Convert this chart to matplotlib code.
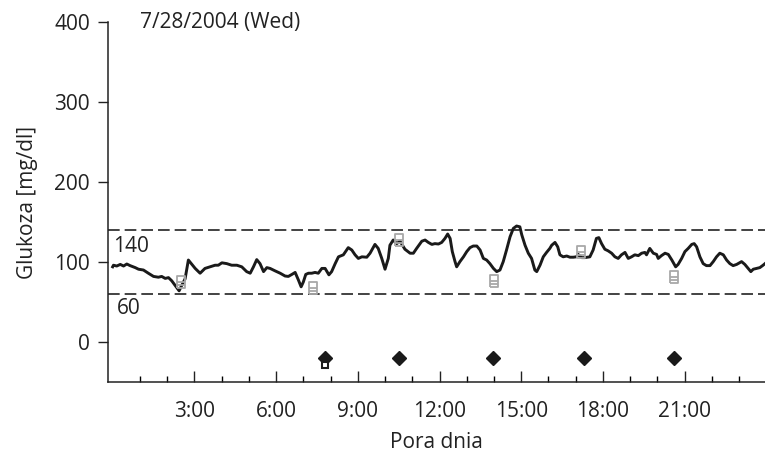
# CGM glucose trace for one day, with meter readings and event markers

import matplotlib
matplotlib.use("Agg")
import matplotlib.pyplot as plt
from matplotlib.path import Path

plt.rcParams['font.family'] = ['Open Sans', 'DejaVu Sans']

# sensor trace: hour of day, glucose (mg/dl)
cgm_hours = [
    0.00, 0.03, 0.15, 0.28, 0.40, 0.52, 0.64, 0.83, 0.95, 1.13, 1.31, 1.50, 1.68, 1.80,
    1.93, 2.05, 2.17, 2.29, 2.44, 2.54, 2.66, 2.78, 2.91, 3.03, 3.21, 3.39, 3.58, 3.76,
    3.88, 4.01, 4.19, 4.37, 4.56, 4.74, 4.92, 5.05, 5.17, 5.29, 5.41, 5.54, 5.66, 5.78,
    5.96, 6.15, 6.33, 6.45, 6.58, 6.70, 6.82, 6.92, 7.00, 7.09, 7.19, 7.31, 7.43, 7.55,
    7.68, 7.80, 7.94, 8.04, 8.17, 8.29, 8.47, 8.65, 8.78, 8.90, 9.02, 9.15, 9.33, 9.45,
    9.63, 9.75, 9.88, 10.00, 10.12, 10.18, 10.30, 10.43, 10.55, 10.73, 10.92, 11.04,
    11.16, 11.35, 11.47, 11.59, 11.72, 11.83, 11.96, 12.08, 12.20, 12.30, 12.39, 12.47,
    12.57, 12.63, 12.75, 12.88, 13.00, 13.12, 13.24, 13.37, 13.49, 13.61, 13.73, 13.85,
    13.98, 14.10, 14.22, 14.34, 14.46, 14.59, 14.71, 14.83, 14.95, 15.02, 15.14, 15.26,
    15.38, 15.50, 15.57, 15.69, 15.81, 15.93, 16.05, 16.12, 16.24, 16.34, 16.42, 16.54,
    16.67, 16.79, 16.91, 17.03, 17.09, 17.22, 17.34, 17.52, 17.64, 17.76, 17.85, 17.95,
    18.07, 18.19, 18.32, 18.44, 18.56, 18.68, 18.81, 18.93, 19.05, 19.17, 19.30, 19.42,
    19.54, 19.60, 19.72, 19.85, 19.97, 20.03, 20.15, 20.28, 20.40, 20.53, 20.67, 20.76,
    20.89, 21.01, 21.13, 21.26, 21.35, 21.44, 21.56, 21.68, 21.80, 21.93, 22.05, 22.17,
    22.29, 22.42, 22.54, 22.66, 22.78, 22.91, 23.09, 23.21, 23.33, 23.43, 23.52, 23.64,
    23.76, 23.88, 23.95,
]
cgm_values = [
    94, 96, 95, 97, 95, 97.5, 95.5, 93, 91, 90, 86, 82, 81, 82,
    79.5, 80.5, 76.5, 71, 64, 71, 79, 102.5, 97, 92, 86, 92, 94, 96,
    96, 99, 98, 96, 96, 94, 88, 86, 94, 103, 98, 88, 93, 92,
    89, 86, 82.5, 82, 84.5, 87, 77.5, 69, 75, 84.5, 86, 86, 87, 86,
    92, 92, 84, 88, 98, 106.5, 109, 118, 115, 109, 104.5, 106.5, 106, 111,
    122, 117, 104.5, 91, 104.5, 121, 127.5, 123, 126, 116, 111, 111,
    117, 126, 127.5, 124.5, 122, 123, 122.5, 124.5, 129.5, 135, 129.5, 113,
    100.5, 94, 100.5, 106.5, 113, 118, 120, 120, 115, 104.5, 102.5, 98,
    92, 88, 90, 100.5, 115, 131.5, 142, 145, 144, 134, 121, 111,
    104.5, 90, 88, 96, 106.5, 112, 117, 121, 124.5, 119, 109, 106.5,
    107.5, 106, 106, 106.5, 109.5, 105.5, 105.5, 106.5, 115, 129.5, 130.5, 123,
    116, 114, 111, 106.5, 104.5, 109, 112, 104.5, 106.5, 109, 108, 111,
    112, 109, 117, 111, 109.5, 104.5, 108, 111, 109.5, 102.5, 94, 97,
    104.5, 113, 117, 122, 123, 119, 106.5, 98, 95.5, 95.5, 100.5, 106.5,
    111, 109, 102.5, 98, 95.5, 97, 100.5, 97, 92, 88, 91, 92,
    93, 96, 98,
]

# fingerstick meter readings
meter_hours = [2.52, 7.34, 10.5, 14.0, 17.2, 20.6]
meter_values = [75, 67, 128, 76, 113, 81]

# event markers along the bottom
event_hours = [7.80, 10.52, 13.98, 17.30, 20.62]
event_level = -20
insulin_hours = [7.80]
insulin_level = -29

low_limit = 60
high_limit = 140

fs = 15

fig = plt.figure(figsize=(7.65, 4.55), dpi=100)
ax = fig.add_axes([0.1412, 0.1604, 0.8588, 0.7912])

# target range lines
ax.axhline(high_limit, color='#222222', lw=1.2, dashes=(7, 3))
ax.axhline(low_limit, color='#222222', lw=1.2, dashes=(7, 3))
ax.text(0.0, 120, str(high_limit), fontsize=fs, va='center', ha='left', color='#222222')
ax.text(0.15, 42, str(low_limit), fontsize=fs, va='center', ha='left', color='#222222')

# sensor trace
ax.plot(cgm_hours, cgm_values, color='#1a1a1a', lw=2.1, solid_joinstyle='round')

# meter readings drawn as a small boxed glyph
box = Path(
    [(-0.35, -0.5), (0.35, -0.5), (0.35, 0.5), (-0.35, 0.5), (-0.35, -0.5),
     (-0.35, 0.0), (0.35, 0.0), (-0.35, -0.25), (0.35, -0.25)],
    [Path.MOVETO, Path.LINETO, Path.LINETO, Path.LINETO, Path.LINETO,
     Path.MOVETO, Path.LINETO, Path.MOVETO, Path.LINETO],
)
ax.plot(meter_hours, meter_values, ls='none', marker=box, ms=8,
        mfc='none', mec='#a8a8a8', mew=1.3)

# events
ax.plot(event_hours, [event_level] * len(event_hours), ls='none', marker='D',
        ms=7, color='#1a1a1a')
ax.plot(insulin_hours, [insulin_level] * len(insulin_hours), ls='none', marker='s',
        ms=4.5, mfc='white', mec='#1a1a1a', mew=1.5)

ax.text(1.0, 400, '7/28/2004 (Wed)', fontsize=fs, va='center', ha='left', color='#222222')

ax.set_xlim(-0.17, 23.95)
ax.set_ylim(-50, 400)
ax.set_yticks([0, 100, 200, 300, 400])
ax.set_xticks([3, 6, 9, 12, 15, 18, 21])
ax.set_xticklabels(['3:00', '6:00', '9:00', '12:00', '15:00', '18:00', '21:00'])
ax.set_xticks(range(1, 24), minor=True)
ax.tick_params(axis='x', which='major', direction='in', length=8, width=1, pad=14,
               labelsize=fs, colors='#222222')
ax.tick_params(axis='x', which='minor', direction='in', length=4, width=1)
ax.tick_params(axis='y', direction='out', length=7, width=1, pad=6,
               labelsize=fs, colors='#222222')

for side in ['top', 'right']:
    ax.spines[side].set_visible(False)
for side in ['left', 'bottom']:
    ax.spines[side].set_linewidth(1.1)
    ax.spines[side].set_color('#222222')

ax.set_xlabel('Pora dnia', fontsize=fs, labelpad=7, color='#222222')
ax.set_ylabel('Glukoza [mg/dl]', fontsize=fs, labelpad=12, color='#222222')

fig.savefig('out.png', dpi=100)
